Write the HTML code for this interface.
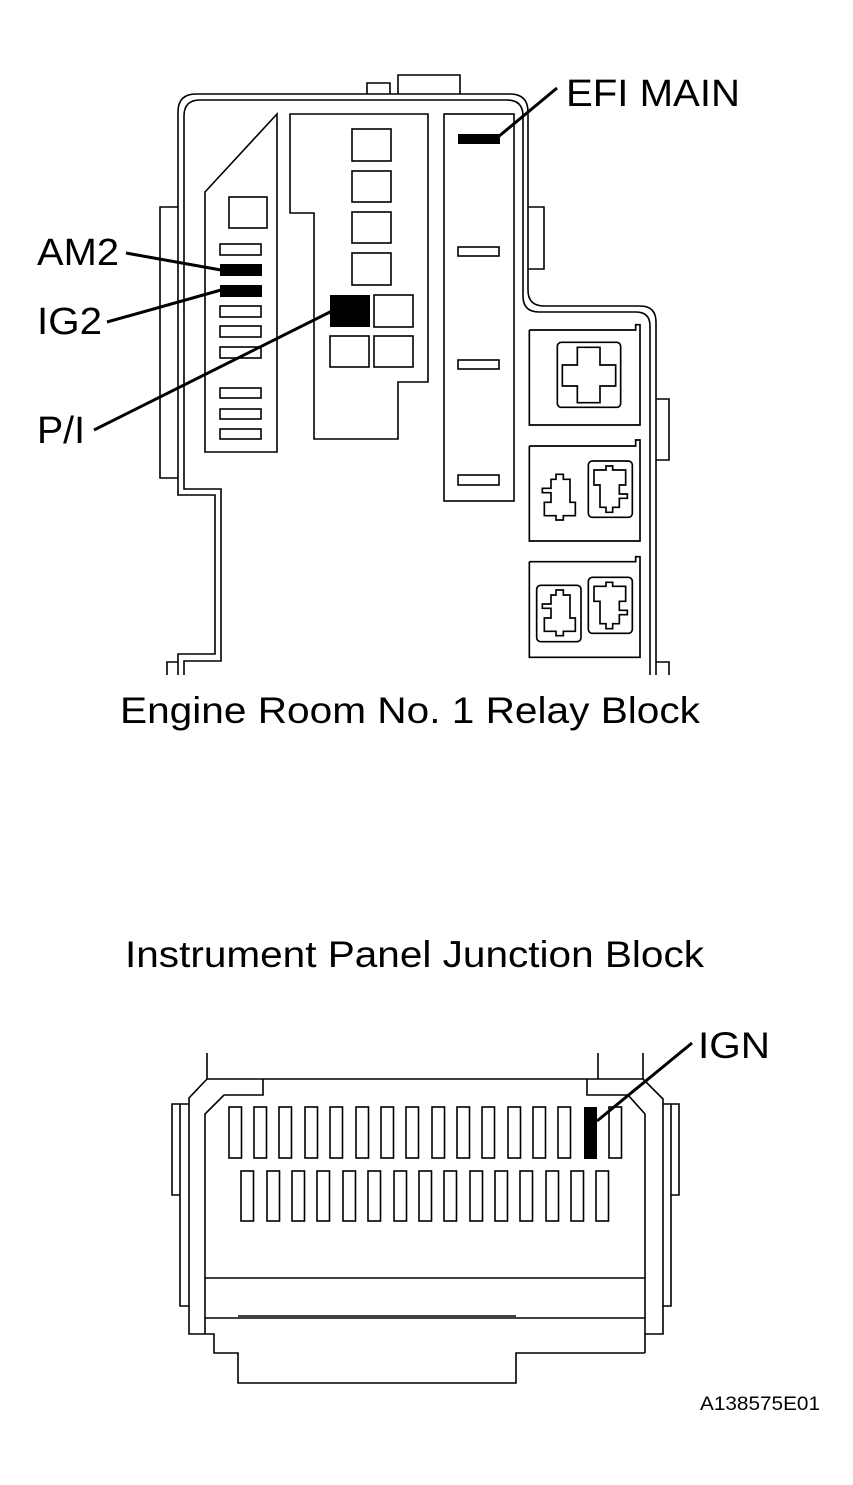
<!DOCTYPE html>
<html><head><meta charset="utf-8"><style>
html,body{margin:0;padding:0;background:#fff;}
svg{display:block;}
text{font-family:"Liberation Sans",Arial,sans-serif;fill:#000;}
</style></head><body>
<svg width="853" height="1485" viewBox="0 0 853 1485" xmlns="http://www.w3.org/2000/svg">
<g fill="none" stroke="#000" stroke-width="1.6">
<polyline points="367,94 367,83 390,83 390,94"/>
<polyline points="398,94 398,75 460,75 460,94"/>
<path d="M178,675 L178,654 L215,654 L215,495 L178,495 L178,112 Q178,94 196,94 L510,94 Q528,94 528,112 L528,290 Q528,306 544,306 L640,306 Q656,306 656,322 L656,675"/>
<path d="M184,675 L184,661 L221,661 L221,489 L184,489 L184,116 Q184,100 200,100 L507,100 Q523,100 523,116 L523,296 Q523,312 539,312 L636,312 Q650,312 650,326 L650,675"/>
<polyline points="178,207 160,207 160,478 178,478"/>
<polyline points="167,675 167,662 178,662"/>
<polyline points="528,207 544,207 544,269 528,269"/>
<polyline points="656,399 669,399 669,460 656,460"/>
<polyline points="669,675 669,662 656,662"/>
<polygon points="205,192 277,114 277,452 205,452"/>
<rect x="229" y="197" width="38" height="31"/>
<rect x="220" y="244" width="41" height="11"/>
<rect x="220" y="306" width="41" height="11"/>
<rect x="220" y="326" width="41" height="11"/>
<rect x="220" y="347" width="41" height="11"/>
<rect x="220" y="388" width="41" height="10"/>
<rect x="220" y="409" width="41" height="10"/>
<rect x="220" y="429" width="41" height="10"/>
<polygon points="290,114 428,114 428,382 398,382 398,439 314,439 314,213 290,213"/>
<rect x="352" y="129" width="39" height="32"/>
<rect x="352" y="171" width="39" height="31"/>
<rect x="352" y="212" width="39" height="31"/>
<rect x="352" y="253" width="39" height="32"/>
<rect x="374" y="295" width="39" height="32"/>
<rect x="330" y="336" width="39" height="31"/>
<rect x="374" y="336" width="39" height="31"/>
<rect x="444" y="114" width="70" height="387"/>
<rect x="458" y="247" width="41" height="9"/>
<rect x="458" y="360" width="41" height="9"/>
<rect x="458" y="475" width="41" height="10"/>
<g transform="translate(520,320) scale(0.33333)" stroke-width="5">
<polyline points="28,30 347,30 347,14 360,14 360,315 28,315 28,30"/>
<rect x="112" y="67" width="190" height="195" rx="12"/>
<polygon points="172,82 240,82 240,135 287,135 287,198 240,198 240,248 172,248 172,198 127,198 127,135 172,135"/>
<polyline points="28,378 347,378 347,360 360,360 360,663 28,663 28,378"/>
<polygon points="108,463 130,463 130,478 150,478 150,547 166,547 166,587 130,587 130,600 108,600 108,587 73,587 73,547 93,547 93,518 67,518 67,505 93,505 93,478 108,478"/>
<rect x="205" y="423" width="132" height="169" rx="12"/>
<polygon points="222,450 258,450 258,438 278,438 278,450 317,450 317,495 298,495 298,522 322,522 322,535 298,535 298,562 278,562 278,577 258,577 258,562 240,562 240,495 222,495"/>
<polyline points="28,725 347,725 347,710 360,710 360,1012 28,1012 28,725"/>
<rect x="50" y="796" width="133" height="169" rx="12"/>
<polygon points="108,810 130,810 130,825 150,825 150,894 166,894 166,934 130,934 130,947 108,947 108,934 73,934 73,894 93,894 93,865 67,865 67,852 93,852 93,825 108,825"/>
<rect x="205" y="772" width="132" height="168" rx="12"/>
<polygon points="222,799 258,799 258,787 278,787 278,799 317,799 317,844 298,844 298,871 322,871 322,884 298,884 298,911 278,911 278,926 258,926 258,911 240,911 240,844 222,844"/>
</g>
</g>
<rect x="220" y="264" width="42" height="12" fill="#000"/>
<rect x="220" y="285" width="42" height="12" fill="#000"/>
<rect x="330" y="295" width="40" height="32" fill="#000"/>
<rect x="458" y="134" width="42" height="10" fill="#000"/>
<g stroke="#000" stroke-width="3" fill="none">
<line x1="557" y1="88" x2="498" y2="137"/>
<line x1="126" y1="253" x2="221" y2="270"/>
<line x1="107" y1="322" x2="221" y2="290"/>
<line x1="94" y1="430" x2="332" y2="311"/>
<line x1="692" y1="1043" x2="597" y2="1121"/>
</g>
<text x="566" y="106" font-size="38" textLength="174" lengthAdjust="spacingAndGlyphs">EFI MAIN</text>
<text x="37" y="265" font-size="38" textLength="82" lengthAdjust="spacingAndGlyphs">AM2</text>
<text x="37" y="334" font-size="38" textLength="65" lengthAdjust="spacingAndGlyphs">IG2</text>
<text x="37" y="443" font-size="38" textLength="48" lengthAdjust="spacingAndGlyphs">P/I</text>
<text x="120" y="723" font-size="37" textLength="580" lengthAdjust="spacingAndGlyphs">Engine Room No. 1 Relay Block</text>
<text x="125" y="967" font-size="37" textLength="579" lengthAdjust="spacingAndGlyphs">Instrument Panel Junction Block</text>
<text x="698" y="1058" font-size="37" textLength="72" lengthAdjust="spacingAndGlyphs">IGN</text>
<text x="700" y="1410" font-size="19" textLength="120" lengthAdjust="spacingAndGlyphs">A138575E01</text>
<g fill="none" stroke="#000" stroke-width="1.6">
<line x1="207" y1="1053" x2="207" y2="1079"/>
<line x1="598" y1="1053" x2="598" y2="1079"/>
<line x1="643" y1="1053" x2="643" y2="1079"/>
<line x1="207" y1="1079" x2="643" y2="1079"/>
<polyline points="207,1079 189,1098 189,1334 205,1334"/>
<polyline points="643,1079 663,1099 663,1334 645,1334"/>
<polyline points="263,1079 263,1095 224,1095 205,1114 205,1334"/>
<polyline points="587,1079 587,1095 628,1095 645,1114 645,1353"/>
<line x1="205" y1="1278" x2="645" y2="1278"/>
<line x1="205" y1="1318" x2="645" y2="1318"/>
<line x1="238" y1="1316" x2="516" y2="1316"/>
<polyline points="205,1334 214,1334 214,1353 238,1353 238,1383 516,1383 516,1353 645,1353"/>
<polyline points="189,1104 180,1104 180,1306 189,1306"/>
<polyline points="180,1104 172,1104 172,1195 180,1195"/>
<polyline points="663,1104 671,1104 671,1306 663,1306"/>
<polyline points="671,1104 679,1104 679,1195 671,1195"/>
<rect x="229" y="1107" width="12.5" height="51"/>
<rect x="254" y="1107" width="12.5" height="51"/>
<rect x="279" y="1107" width="12.5" height="51"/>
<rect x="305" y="1107" width="12.5" height="51"/>
<rect x="330" y="1107" width="12.5" height="51"/>
<rect x="356" y="1107" width="12.5" height="51"/>
<rect x="381" y="1107" width="12.5" height="51"/>
<rect x="406" y="1107" width="12.5" height="51"/>
<rect x="432" y="1107" width="12.5" height="51"/>
<rect x="457" y="1107" width="12.5" height="51"/>
<rect x="482" y="1107" width="12.5" height="51"/>
<rect x="508" y="1107" width="12.5" height="51"/>
<rect x="533" y="1107" width="12.5" height="51"/>
<rect x="558" y="1107" width="12.5" height="51"/>
<rect x="609" y="1107" width="12.5" height="51"/>
<rect x="241" y="1171" width="12.5" height="50"/>
<rect x="267" y="1171" width="12.5" height="50"/>
<rect x="292" y="1171" width="12.5" height="50"/>
<rect x="317" y="1171" width="12.5" height="50"/>
<rect x="343" y="1171" width="12.5" height="50"/>
<rect x="368" y="1171" width="12.5" height="50"/>
<rect x="394" y="1171" width="12.5" height="50"/>
<rect x="419" y="1171" width="12.5" height="50"/>
<rect x="444" y="1171" width="12.5" height="50"/>
<rect x="470" y="1171" width="12.5" height="50"/>
<rect x="495" y="1171" width="12.5" height="50"/>
<rect x="520" y="1171" width="12.5" height="50"/>
<rect x="546" y="1171" width="12.5" height="50"/>
<rect x="571" y="1171" width="12.5" height="50"/>
<rect x="596" y="1171" width="12.5" height="50"/>
</g>
<rect x="584" y="1107" width="13" height="52" fill="#000"/>
</svg>
</body></html>
